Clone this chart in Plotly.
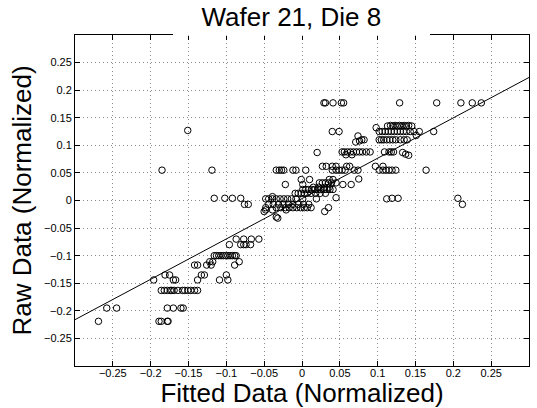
import plotly.graph_objects as go

# Fitted (x) and raw (y) normalized data
fitted = [
    # y ~ 0.177 row
    0.029, 0.031, 0.041, 0.052, 0.055, 0.129, 0.178, 0.210, 0.225, 0.237,
    # y ~ 0.135 row
    0.098, 0.113, 0.117, 0.120, 0.123, 0.126, 0.129, 0.132, 0.135, 0.138, 0.141, 0.145,
    # y ~ 0.125 row
    0.040, 0.049, 0.102, 0.106, 0.110, 0.114, 0.118, 0.122, 0.126, 0.130, 0.134, 0.138,
    0.143, 0.148, 0.155, 0.174, -0.151,
    # y ~ 0.118
    0.074, 0.151,
    # y ~ 0.11 row
    0.071, 0.076, 0.079, 0.082, 0.102, 0.105, 0.108, 0.112, 0.116, 0.120, 0.124, 0.130,
    0.135, 0.139,
    # y ~ 0.088 row
    0.020, 0.053, 0.056, 0.060, 0.064, 0.068, 0.072, 0.076, 0.080, 0.085, 0.090, 0.058,
    0.066, 0.109, 0.115, 0.118, 0.121, 0.133, 0.137, 0.141,
    # y ~ 0.062 row
    0.027, 0.032, 0.040, 0.045, 0.059, 0.063, 0.097, 0.107,
    # y ~ 0.055 row
    -0.185, -0.119, -0.034, -0.030, -0.027, -0.024, -0.012, -0.008, 0.005, 0.040,
    0.045, 0.049, 0.053, 0.057, 0.069, 0.074, 0.102, 0.107, 0.111, 0.115, 0.119, 0.124,
    0.164,
    # y ~ 0.04 / 0.03
    0.075, -0.001, 0.010, 0.036, 0.041, -0.022, 0.001, 0.054, 0.065,
    0.023, 0.027, 0.031, 0.035, 0.039, 0.045,
    # y ~ 0.02 row
    0.001, 0.005, 0.009, 0.013, 0.017, 0.021, 0.025, 0.029, 0.033, 0.037, 0.041,
    0.015, 0.022, 0.030, 0.036,
    # y ~ 0.013 row
    -0.009, -0.005, -0.001, 0.003, 0.007, 0.012, 0.018, 0.024, 0.031,
    # y ~ 0.003 row
    -0.048, -0.044, -0.039, -0.034, -0.029, -0.024, -0.019, -0.014, -0.008, 0.001,
    0.019, 0.045, -0.039,
    # y ~ -0.007 row
    -0.044, -0.038, -0.031, -0.025, -0.018, -0.012, -0.005, 0.002, 0.009,
    # y ~ -0.013 row
    -0.048, -0.034, -0.028, -0.022, -0.017, -0.012, -0.007, -0.002, 0.003, 0.007,
    0.012, 0.035,
    # y ~ -0.017 .. -0.032
    -0.048, -0.039, -0.021, 0.030, -0.050, -0.034, -0.032,
    # outliers near zero
    0.112, 0.119, 0.127, 0.206, 0.212, -0.116, -0.102, -0.092, -0.081, -0.076, -0.071,
    # y ~ -0.07 / -0.08
    -0.087, -0.077, -0.067, -0.057, -0.096, -0.081, -0.077, -0.074, -0.068,
    # y ~ -0.10 row
    -0.116, -0.113, -0.110, -0.107, -0.104, -0.101, -0.098, -0.095, -0.092, -0.089,
    -0.087,
    # y ~ -0.111 / -0.117
    -0.122, -0.118, -0.083, -0.142, -0.138, -0.126, -0.120, -0.089,
    # y ~ -0.135 / -0.144
    -0.181, -0.175, -0.133, -0.129, -0.100, -0.196, -0.170, -0.167, -0.138, -0.109,
    -0.098,
    # y ~ -0.163 row
    -0.186, -0.182, -0.178, -0.174, -0.172, -0.169, -0.164, -0.158, -0.155, -0.151,
    -0.147, -0.142, -0.138,
    # y ~ -0.195 / -0.219
    -0.258, -0.245, -0.178, -0.170, -0.160, -0.157, -0.269, -0.189, -0.186, -0.178,
    -0.177,
]

raw = [
    0.177, 0.177, 0.177, 0.177, 0.177, 0.177, 0.177, 0.177, 0.177, 0.177,
    0.132, 0.135, 0.136, 0.135, 0.136, 0.135, 0.136, 0.135, 0.136, 0.135, 0.136, 0.135,
    0.125, 0.125, 0.125, 0.125, 0.125, 0.125, 0.125, 0.125, 0.125, 0.125, 0.125, 0.125,
    0.125, 0.125, 0.125, 0.125, 0.127,
    0.117, 0.118,
    0.106, 0.108, 0.110, 0.110, 0.110, 0.110, 0.110, 0.110, 0.110, 0.110, 0.110, 0.110,
    0.110, 0.110,
    0.087, 0.088, 0.088, 0.088, 0.088, 0.088, 0.088, 0.088, 0.088, 0.088, 0.088, 0.083,
    0.083, 0.088, 0.088, 0.088, 0.088, 0.087, 0.084, 0.082,
    0.062, 0.062, 0.062, 0.062, 0.062, 0.062, 0.062, 0.062,
    0.055, 0.055, 0.055, 0.055, 0.055, 0.055, 0.055, 0.055, 0.055, 0.055,
    0.055, 0.055, 0.055, 0.055, 0.055, 0.055, 0.055, 0.055, 0.055, 0.055, 0.055, 0.055,
    0.055,
    0.039, 0.038, 0.038, 0.038, 0.038, 0.029, 0.029, 0.029, 0.029,
    0.032, 0.032, 0.032, 0.032, 0.032, 0.032,
    0.020, 0.020, 0.020, 0.020, 0.020, 0.020, 0.020, 0.020, 0.020, 0.020, 0.020,
    0.024, 0.024, 0.024, 0.024,
    0.013, 0.013, 0.013, 0.013, 0.013, 0.013, 0.013, 0.013, 0.013,
    0.003, 0.003, 0.003, 0.003, 0.003, 0.003, 0.003, 0.003, 0.003, 0.003,
    0.003, 0.005, 0.007,
    -0.007, -0.007, -0.007, -0.007, -0.007, -0.007, -0.007, -0.007, -0.007,
    -0.013, -0.013, -0.013, -0.013, -0.013, -0.013, -0.013, -0.013, -0.013, -0.013,
    -0.013, -0.013,
    -0.017, -0.017, -0.017, -0.020, -0.020, -0.030, -0.032,
    0.003, 0.004, 0.004, 0.004, -0.007, 0.004, 0.004, 0.004, 0.004, -0.007, -0.007,
    -0.070, -0.070, -0.070, -0.070, -0.080, -0.080, -0.080, -0.080, -0.080,
    -0.100, -0.100, -0.100, -0.100, -0.100, -0.100, -0.100, -0.100, -0.100, -0.100,
    -0.100,
    -0.111, -0.111, -0.111, -0.117, -0.117, -0.117, -0.117, -0.117,
    -0.135, -0.135, -0.135, -0.135, -0.135, -0.144, -0.144, -0.144, -0.144, -0.144,
    -0.144,
    -0.163, -0.163, -0.163, -0.163, -0.163, -0.163, -0.163, -0.163, -0.163, -0.163,
    -0.163, -0.163, -0.163,
    -0.195, -0.195, -0.195, -0.195, -0.195, -0.195, -0.219, -0.219, -0.219, -0.219,
    -0.219,
]

# Fit line endpoints (x at the axis limits)
fit_x = [-0.3, 0.3]
fit_y = [-0.216, 0.223]

tick_vals = [-0.25, -0.2, -0.15, -0.1, -0.05, 0, 0.05, 0.1, 0.15, 0.2, 0.25]
tick_text = ["\u22120.25", "\u22120.2", "\u22120.15", "\u22120.1", "\u22120.05", "0",
             "0.05", "0.1", "0.15", "0.2", "0.25"]

title_text = "Wafer 21, Die 8"
x_title = "Fitted Data (Normalized)"
y_title = "Raw Data (Normalized)"

FONT = "Liberation Sans, Arial, Helvetica, sans-serif"

fig = go.Figure()
fig.add_trace(go.Scatter(
    x=fitted, y=raw, mode="markers",
    marker=dict(symbol="circle-open", size=6.5, color="black", line=dict(width=1, color="black")),
    showlegend=False, hoverinfo="x+y",
))
fig.add_trace(go.Scatter(
    x=fit_x, y=fit_y, mode="lines",
    line=dict(color="black", width=1),
    showlegend=False,
))

axis_common = dict(
    range=[-0.3, 0.3],
    tickvals=tick_vals, ticktext=tick_text,
    ticks="inside", ticklen=5, tickwidth=1, tickcolor="black",
    showline=True, linecolor="black", linewidth=1, mirror="ticks",
    showgrid=True, gridcolor="#8c8c8c", griddash="1px,3px", gridwidth=1,
    zeroline=False,
    tickfont=dict(family=FONT, size=11, color="black"),
)

fig.update_layout(
    width=537, height=408,
    margin=dict(l=75, r=8, t=35, b=42),
    paper_bgcolor="white", plot_bgcolor="white",
    font=dict(family=FONT, color="black"),
    title=dict(text=title_text, x=0.5426, xanchor="center", y=0.958, yanchor="middle",
               font=dict(family=FONT, size=26, color="black")),
    xaxis=dict(axis_common, ticklabelstandoff=-3,
               title=dict(text=x_title, font=dict(family=FONT, size=26), standoff=0)),
    yaxis=dict(axis_common, title=dict(text=y_title, font=dict(family=FONT, size=26), standoff=4)),
    shapes=[dict(type="rect", xref="paper", yref="paper",
                 x0=0.216, x1=0.782, y0=0.998, y1=1.01,
                 fillcolor="white", line=dict(width=0), layer="above")],
)

fig.write_html("out.html")
